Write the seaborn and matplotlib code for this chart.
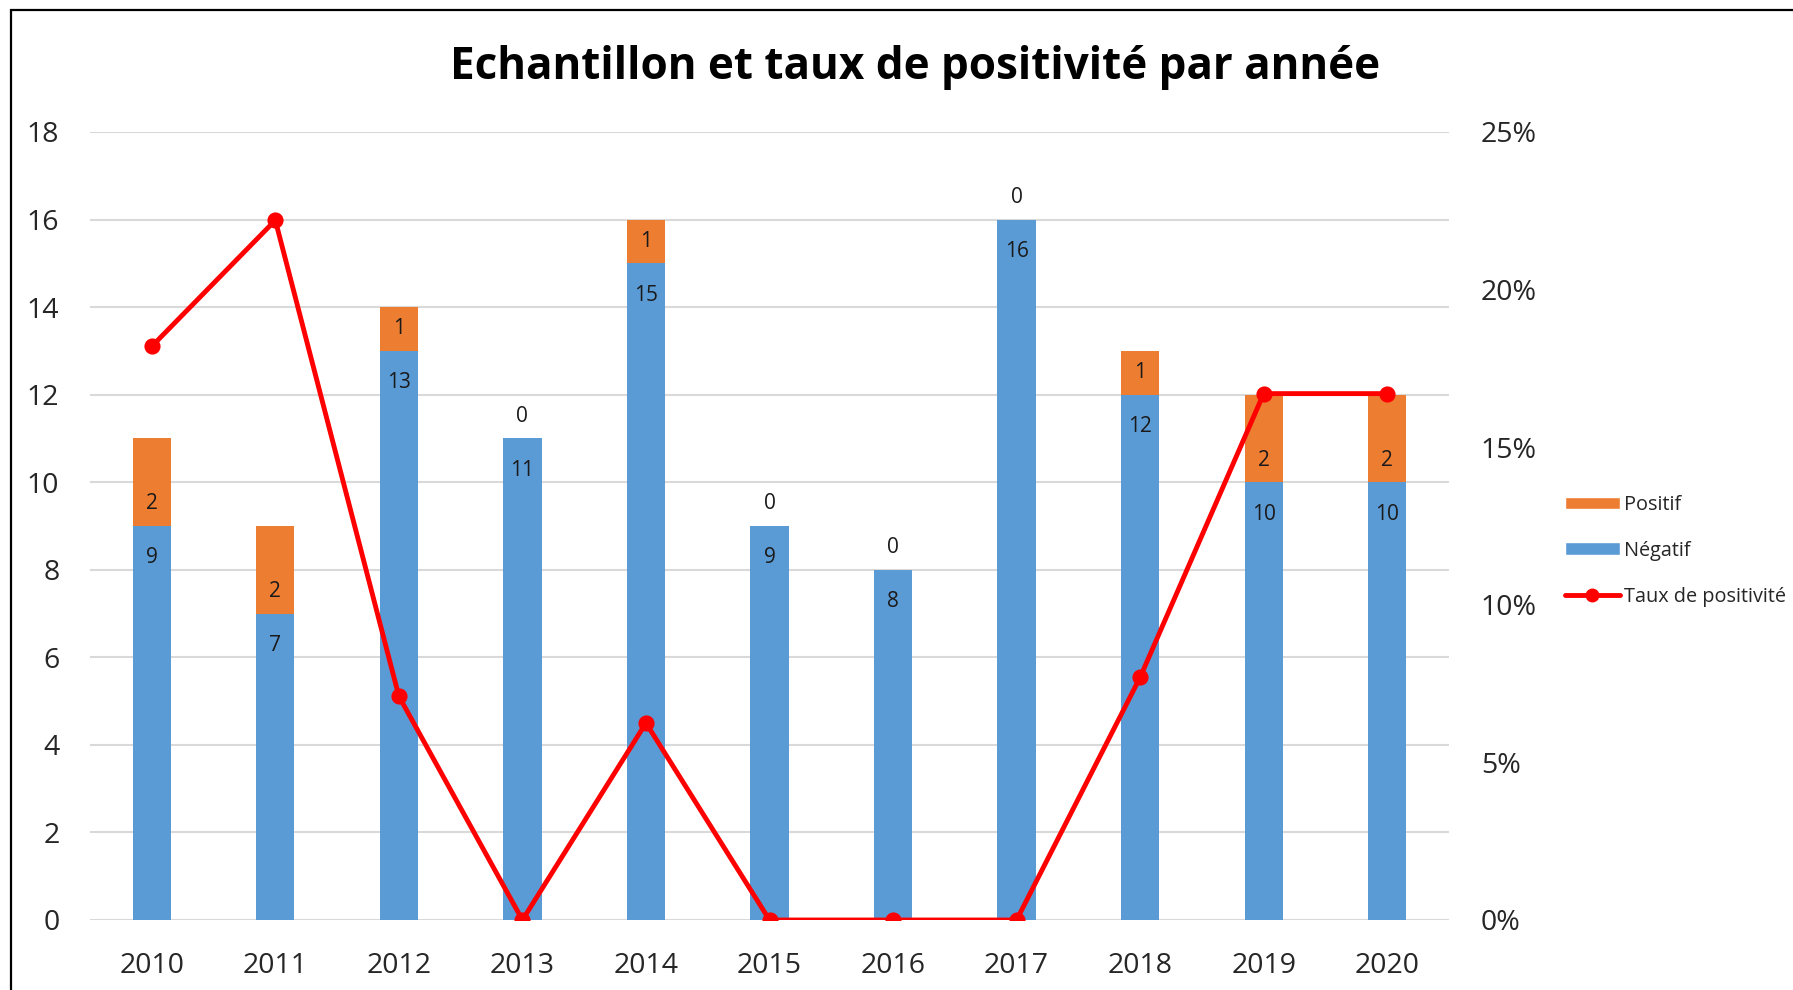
import matplotlib
matplotlib.use("Agg")
import matplotlib.pyplot as plt
import seaborn as sns
import pandas as pd
from matplotlib.patches import Rectangle, Patch
from matplotlib.lines import Line2D
from matplotlib.ticker import FuncFormatter

years = ["2010", "2011", "2012", "2013", "2014", "2015", "2016", "2017", "2018", "2019", "2020"]
negatif = [9, 7, 13, 11, 15, 9, 8, 16, 12, 10, 10]
positif = [2, 2, 1, 0, 1, 0, 0, 0, 1, 2, 2]
taux = [18.2, 22.2, 7.1, 0.0, 6.25, 0.0, 0.0, 0.0, 7.7, 16.7, 16.7]  # %

BLUE = "#5B9BD5"
ORANGE = "#ED7D31"
RED = "#FF0000"
GRID = "#D9D9D9"

sns.set_theme(style="white")
plt.rcParams["font.family"] = ["Open Sans", "DejaVu Sans"]

df = pd.DataFrame({"annee": years, "neg": negatif, "pos": positif})
df["total"] = df["neg"] + df["pos"]

fig = plt.figure(figsize=(17.93, 9.90), dpi=100)
W, H = 1793, 990
ax = fig.add_axes([90 / W, 1 - 920 / H, (1449 - 90) / W, (920 - 132) / H])

sns.barplot(data=df, x="annee", y="total", color=ORANGE, saturation=1, width=0.31, ax=ax, zorder=2)
sns.barplot(data=df, x="annee", y="neg", color=BLUE, saturation=1, width=0.31, ax=ax, zorder=3)
for p in ax.patches:
    p.set_edgecolor("none")

ax.set_ylim(0, 18)
ax.set_xlim(-0.5, len(years) - 0.5)
ax.set_yticks(range(0, 19, 2))
ax.yaxis.grid(True, color=GRID, linewidth=1.5, zorder=0)
ax.set_axisbelow(True)
for s in ax.spines.values():
    s.set_visible(False)
ax.set_xlabel("")
ax.set_ylabel("")
ax.tick_params(axis="y", length=0, pad=22, labelsize=20.5)
ax.tick_params(axis="x", length=0, pad=23, labelsize=20.5)

# data labels
for i in range(len(years)):
    ax.annotate(str(negatif[i]), (i, negatif[i]), xytext=(0, -23), textcoords="offset points",
                ha="center", va="center", fontsize=15, color="#1a1a1a", zorder=5)
    ax.annotate(str(positif[i]), (i, negatif[i]), xytext=(0, 16), textcoords="offset points",
                ha="center", va="center", fontsize=15, color="#1a1a1a", zorder=5)

ax2 = ax.twinx()
sns.pointplot(x=list(range(len(years))), y=taux, native_scale=True, color=RED, markers="o",
              linewidth=3.5, markersize=9, ax=ax2, zorder=6)
ax2.set_xlim(-0.5, len(years) - 0.5)
ax2.set_ylim(0, 25)
ax2.set_yticks([0, 5, 10, 15, 20, 25])
ax2.yaxis.set_major_formatter(FuncFormatter(lambda v, _: f"{int(v)}%"))
ax2.tick_params(axis="y", length=0, pad=23, labelsize=20.5)
ax2.grid(False)
for s in ax2.spines.values():
    s.set_visible(False)
ax2.set_ylabel("")
ax2.set_xlabel("")
ax.set_xticks(range(len(years)))
ax.set_xticklabels(years)

fig.text(915 / W, 1 - 68 / H, "Echantillon et taux de positivité par année", ha="center", va="center",
         fontsize=31.7, fontweight="bold", color="#000000")

handles = [Patch(facecolor=ORANGE, label="Positif"),
           Patch(facecolor=BLUE, label="Négatif"),
           Line2D([0], [0], color=RED, lw=3.5, marker="o", markersize=9, label="Taux de positivité")]
fig.legend(handles=handles, loc="upper left", bbox_to_anchor=(1557 / W, 1 - 487 / H), frameon=False,
           fontsize=14.3, handlelength=2.75, handleheight=0.6, labelspacing=1.3, handletextpad=0.2,
           borderaxespad=0)

fig.patches.append(Rectangle((11 / W, -0.2), 1.5, 1 - 10 / H + 0.2, transform=fig.transFigure,
                             fill=False, edgecolor="black", linewidth=1.6))

fig.savefig("out.png", dpi=100)
